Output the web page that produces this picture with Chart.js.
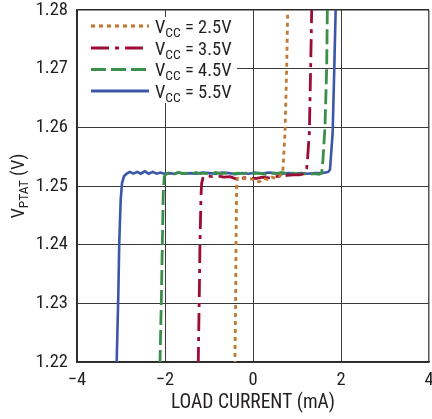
<!DOCTYPE html>
<html><head><meta charset="utf-8">
<script src="https://cdn.jsdelivr.net/npm/chart.js@4"></script>
<style>html,body{margin:0;padding:0;background:#fff;overflow:hidden}</style>
</head><body>
<canvas id="c" width="432" height="419" style="width:432px;height:419px;display:block"></canvas>
<script>
// ---- data ----
const seriesVcc = ['2.5V', '3.5V', '4.5V', '5.5V'];
const seriesColors = ['#c47834', '#9d0c34', '#3b8f4a', '#3a57a8'];
const seriesDash = [[4, 4], [18, 6, 4, 6], [15, 5], []];

const x25 = [-0.412, -0.393, -0.386, -0.371, -0.356, -0.30, -0.22, -0.12, -0.02, 0.08, 0.16, 0.24, 0.33, 0.42, 0.52, 0.60, 0.675, 0.727, 0.766, 0.79];
const y25 = [1.2195, 1.2318, 1.2403, 1.2499, 1.2513, 1.2512, 1.2514, 1.2511, 1.2512, 1.2507, 1.2508, 1.2513, 1.2511, 1.2515, 1.2513, 1.2516, 1.2522, 1.2590, 1.2703, 1.2805];

const x35 = [-1.245, -1.22, -1.205, -1.18, -1.166, -1.13, -1.05, -0.92, -0.80, -0.66, -0.52, -0.42, -0.30, -0.18, -0.05, 0.08, 0.22, 0.36, 0.50, 0.64, 0.78, 0.92, 1.05, 1.12, 1.18, 1.22, 1.234, 1.28, 1.311, 1.335];
const y35 = [1.2195, 1.2318, 1.2403, 1.2488, 1.2505, 1.2516, 1.2517, 1.2516, 1.2517, 1.2515, 1.2516, 1.2513, 1.2512, 1.2514, 1.2513, 1.2513, 1.2515, 1.2514, 1.2516, 1.2517, 1.2518, 1.2519, 1.2519, 1.2520, 1.2522, 1.2530, 1.2540, 1.2590, 1.2703, 1.2805];

const x45 = [-2.115, -2.08, -2.06, -2.04, -2.016, -1.96, -1.88, -1.80, -1.70, -1.60, -1.50, -1.40, -1.30, -1.20, -1.10, -0.98, -0.85, -0.72, -0.60, -0.48, -0.35, -0.22, -0.10, 0.02, 0.15, 0.28, 0.40, 0.52, 0.65, 0.78, 0.90, 1.02, 1.15, 1.28, 1.40, 1.50, 1.56, 1.59, 1.636, 1.675, 1.69];
const y45 = [1.2195, 1.2318, 1.2403, 1.2488, 1.2516, 1.2521, 1.2523, 1.2520, 1.2523, 1.2521, 1.2522, 1.2520, 1.2523, 1.2521, 1.2522, 1.2520, 1.2523, 1.2521, 1.2522, 1.2520, 1.2522, 1.2521, 1.2523, 1.2521, 1.2522, 1.2520, 1.2522, 1.2521, 1.2523, 1.2521, 1.2522, 1.2520, 1.2521, 1.2520, 1.2521, 1.2520, 1.2522, 1.2545, 1.2601, 1.2703, 1.2805];

const x55 = [-3.10, -3.06, -3.04, -3.007, -2.977, -2.93, -2.87, -2.80, -2.72, -2.63, -2.55, -2.46, -2.37, -2.28, -2.19, -2.10, -2.02, -1.92, -1.80, -1.68, -1.55, -1.42, -1.28, -1.15, -1.00, -0.85, -0.70, -0.55, -0.40, -0.25, -0.10, 0.05, 0.20, 0.35, 0.50, 0.65, 0.80, 0.95, 1.10, 1.25, 1.40, 1.55, 1.65, 1.71, 1.75, 1.81, 1.848, 1.88];
const y55 = [1.2195, 1.2318, 1.2403, 1.2476, 1.2505, 1.2517, 1.2521, 1.2524, 1.2521, 1.2524, 1.2521, 1.2525, 1.2521, 1.2524, 1.2521, 1.2523, 1.2521, 1.2522, 1.2521, 1.2523, 1.2521, 1.2522, 1.2521, 1.2523, 1.2522, 1.2521, 1.2523, 1.2522, 1.2520, 1.2522, 1.2521, 1.2523, 1.2521, 1.2523, 1.2522, 1.2521, 1.2522, 1.2521, 1.2522, 1.2521, 1.2522, 1.2522, 1.2523, 1.2524, 1.2528, 1.2590, 1.2703, 1.2805];

const xTickValues = [-4, -2, 0, 2, 4];
const xTickLabels = ['\u22124', '\u22122', '0', '2', '4'];
const yTickValues = [1.22, 1.23, 1.24, 1.25, 1.26, 1.27, 1.28];
const yTickLabels = ['1.22', '1.23', '1.24', '1.25', '1.26', '1.27', '1.28'];

const xTitle = 'LOAD CURRENT (mA)';
const yTitleMain = 'V', yTitleSub = 'PTAT', yTitleTail = ' (V)';
const legendMain = 'V', legendSub = 'CC';

// ---- build ----
const FONT = "'Liberation Sans Narrow', 'Arial Narrow', 'Roboto Condensed', 'Liberation Sans', sans-serif";
const TXT = '#231f20';
const xs = [x25, x35, x45, x55], ys = [y25, y35, y45, y55];
const datasets = xs.map((xa, i) => ({
  label: seriesVcc[i],
  data: xa.map((v, j) => ({x: v, y: ys[i][j]})),
  borderColor: seriesColors[i],
  borderDash: seriesDash[i],
  borderWidth: i === 3 ? 2.6 : 2.8,
  pointRadius: 0,
  tension: 0,
  fill: false
}));

function lookup(vals, labels, v) {
  for (let i = 0; i < vals.length; i++) if (Math.abs(vals[i] - v) < 1e-6) return labels[i];
  return '';
}

const overlay = {
  id: 'overlay',
  afterDraw(chart) {
    const ctx = chart.ctx, area = chart.chartArea;
    ctx.save();
    const big = '18.5px ' + FONT, small = '13.5px ' + FONT;
    ctx.font = big; const w1 = ctx.measureText(yTitleMain).width;
    const w3 = ctx.measureText(yTitleTail).width;
    ctx.font = small; const w2 = ctx.measureText(yTitleSub).width;
    const tot = w1 + w2 + w3;
    ctx.translate(24, (area.top + area.bottom) / 2);
    ctx.rotate(-Math.PI / 2);
    ctx.fillStyle = TXT; ctx.textBaseline = 'alphabetic'; ctx.textAlign = 'left';
    let x0 = -tot / 2;
    ctx.font = big; ctx.fillText(yTitleMain, x0, 0);
    ctx.font = small; ctx.fillText(yTitleSub, x0 + w1, 4);
    ctx.font = big; ctx.fillText(yTitleTail, x0 + w1 + w2, 0);
    ctx.restore();

    // legend
    ctx.save();
    ctx.fillStyle = '#fff';
    ctx.fillRect(area.left + 1, 17, 159, 86);
    const rows = [26, 48, 69.5, 91];
    chart.data.datasets.forEach((ds, i) => {
      const yy = rows[i];
      ctx.strokeStyle = ds.borderColor;
      ctx.lineWidth = 3.2;
      ctx.setLineDash(ds.borderDash);
      ctx.beginPath(); ctx.moveTo(91, yy); ctx.lineTo(149, yy); ctx.stroke();
      ctx.setLineDash([]);
      ctx.fillStyle = TXT; ctx.textBaseline = 'alphabetic'; ctx.textAlign = 'left';
      let tx = 155; const base = yy + 6.5;
      ctx.font = big; ctx.fillText(legendMain, tx, base); tx += ctx.measureText(legendMain).width;
      ctx.font = small; ctx.fillText(legendSub, tx, base + 4); tx += ctx.measureText(legendSub).width;
      ctx.font = big; ctx.fillText(' = ' + ds.label, tx, base);
    });
    ctx.restore();
  }
};

new Chart(document.getElementById('c'), {
  type: 'line',
  data: { datasets },
  options: {
    responsive: false, animation: false, parsing: true,
    layout: { padding: { top: 10, right: 3, left: 0, bottom: 0 } },
    plugins: { legend: { display: false }, tooltip: { enabled: false } },
    scales: {
      x: {
        type: 'linear', min: -4, max: 4,
        afterBuildTicks(s) { s.ticks = xTickValues.map(v => ({value: v})); },
        ticks: { padding: 7, maxRotation: 0, autoSkip: false, color: TXT, font: { family: FONT, size: 18.5 },
          callback: v => lookup(xTickValues, xTickLabels, v) },
        grid: { drawTicks: false, color: c => (c.tick && c.tick.value === 4) ? '#555' : '#3a3a3a', lineWidth: c => (c.tick && c.tick.value === 4) ? 1.5 : 1 },
        border: { color: '#2a2a2a', width: 1.5 },
        title: { display: true, text: xTitle, color: TXT, font: { family: FONT, size: 19.5 }, padding: { top: 0, bottom: 4 } },
        afterFit(s) { s.height = 57; s.paddingLeft = 0; s.paddingRight = 0; }
      },
      y: {
        type: 'linear', min: 1.22, max: 1.28,
        afterBuildTicks(s) { s.ticks = yTickValues.map(v => ({value: v})); },
        ticks: { padding: 9, color: TXT, font: { family: FONT, size: 18.5 },
          callback: v => lookup(yTickValues, yTickLabels, v) },
        grid: { drawTicks: false, color: c => (c.tick && Math.abs(c.tick.value - 1.28) < 1e-6) ? '#2a2a2a' : '#3a3a3a', lineWidth: c => (c.tick && Math.abs(c.tick.value - 1.28) < 1e-6) ? 1.5 : 1 },
        border: { color: '#2a2a2a', width: 1.5 },
        afterFit(s) { s.width = 77; s.paddingTop = 0; s.paddingBottom = 0; }
      }
    }
  },
  plugins: [overlay]
});
</script>
</body></html>
